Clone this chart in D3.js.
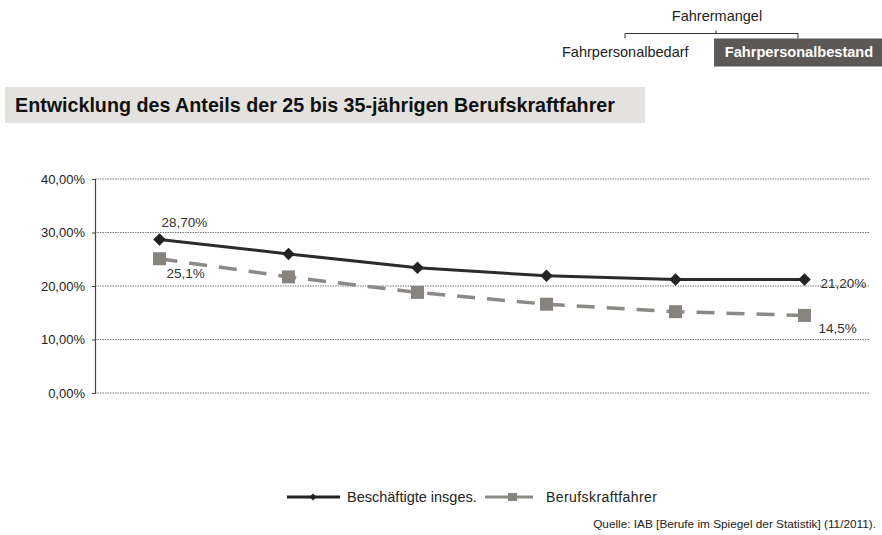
<!DOCTYPE html>
<html>
<head>
<meta charset="utf-8">
<script src="https://cdn.jsdelivr.net/npm/d3@7"></script>
<style>
  body { margin: 0; background: #fff; font-family: "Liberation Sans", Arial, sans-serif; }
  svg text { font-family: "Liberation Sans", Arial, sans-serif; }
</style>
</head>
<body>
<div id="chart"></div>
<script>
// data
var periods = ["P1", "P2", "P3", "P4", "P5", "P6"];
var beschaeftigte = [28.7, 26.0, 23.4, 21.9, 21.2, 21.2];
var fahrer = [25.1, 21.7, 18.8, 16.6, 15.2, 14.5];
var yTicks = [0, 10, 20, 30, 40];
var seriesNames = ["Beschäftigte insges.", "Berufskraftfahrer"];

var W = 882, H = 535;
var margin = {top: 179, right: 13, bottom: 142, left: 95},
    width = W - margin.left - margin.right,
    height = H - margin.top - margin.bottom;

var root = d3.select("#chart").append("svg")
    .attr("width", W).attr("height", H);

// header diagram top right
var head = root.append("g");
head.append("text").attr("x", 717).attr("y", 21).attr("text-anchor", "middle")
    .attr("font-size", 14.5).attr("fill", "#222").text("Fahrermangel");
head.append("path")
    .attr("d", "M625,38.5V33.5H798V38.5M716,33.5V30.5")
    .attr("fill", "none").attr("stroke", "#333").attr("stroke-width", 1);
head.append("text").attr("x", 562).attr("y", 57)
    .attr("font-size", 14.5).attr("fill", "#222").text("Fahrpersonalbedarf");
head.append("rect").attr("x", 714).attr("y", 38.5).attr("width", 168).attr("height", 28)
    .attr("fill", "#5b5855");
head.append("text").attr("x", 799).attr("y", 57).attr("text-anchor", "middle")
    .attr("font-size", 14.6).attr("font-weight", "bold").attr("fill", "#fff")
    .text("Fahrpersonalbestand");

// title bar
root.append("rect").attr("x", 5).attr("y", 87).attr("width", 640).attr("height", 36)
    .attr("fill", "#e4e2df");
root.append("text").attr("x", 15).attr("y", 112)
    .attr("font-size", 19.7).attr("font-weight", "bold").attr("fill", "#111")
    .text("Entwicklung des Anteils der 25 bis 35-jährigen Berufskraftfahrer");

var svg = root.append("g")
    .attr("transform", "translate(" + margin.left + "," + margin.top + ")");

var x = d3.scaleBand().domain(periods).range([0, width]);
var y = d3.scaleLinear().domain([0, 40]).range([height, 0]);

// gridlines
svg.append("g").selectAll("line")
    .data(yTicks)
    .enter().append("line")
    .attr("x1", 0).attr("x2", width)
    .attr("y1", function(d) { return y(d); })
    .attr("y2", function(d) { return y(d); })
    .attr("stroke", "#777").attr("stroke-width", 1)
    .attr("stroke-dasharray", "1.5,1");

// y axis
var yAxis = svg.append("g")
    .call(d3.axisLeft(y).tickValues(yTicks).tickSize(3)
        .tickFormat(function(d) { return d3.format(".2f")(d).replace(".", ",") + "%"; }));
yAxis.select(".domain").attr("stroke", "#444").attr("stroke-width", 1.2);
yAxis.selectAll(".tick line").attr("stroke", "#444");
yAxis.selectAll("text").attr("font-size", 13).attr("fill", "#222").attr("dx", "-4");

var cx = function(d, i) { return x(periods[i]) + x.bandwidth() / 2; };

var line = d3.line()
    .x(function(d, i) { return cx(d, i); })
    .y(function(d) { return y(d); });

// Berufskraftfahrer (dashed grey)
svg.append("path").datum(fahrer)
    .attr("d", line).attr("fill", "none")
    .attr("stroke", "#8c8a87").attr("stroke-width", 3.5)
    .attr("stroke-dasharray", "18,12");
svg.append("g").selectAll("rect")
    .data(fahrer).enter().append("rect")
    .attr("x", function(d, i) { return cx(d, i) - 6.5; })
    .attr("y", function(d) { return y(d) - 6.5; })
    .attr("width", 13).attr("height", 13)
    .attr("fill", "#878480");

// Beschaeftigte (solid dark)
svg.append("path").datum(beschaeftigte)
    .attr("d", line).attr("fill", "none")
    .attr("stroke", "#2b2b2b").attr("stroke-width", 3);
svg.append("g").selectAll("path.diamond")
    .data(beschaeftigte).enter().append("path")
    .attr("class", "diamond")
    .attr("d", d3.symbol().type(d3.symbolDiamond2).size(100))
    .attr("transform", function(d, i) {
        return "translate(" + cx(d, i) + "," + y(d) + ")";
    })
    .attr("fill", "#222");

// value labels
function pct(v, digits) { return d3.format("." + digits + "f")(v).replace(".", ",") + "%"; }
var last = periods.length - 1;
svg.append("text").attr("x", cx(0, 0) + 2).attr("y", y(beschaeftigte[0]) - 12)
    .attr("font-size", 13.5).attr("fill", "#333").text(pct(beschaeftigte[0], 2));
svg.append("text").attr("x", cx(0, 0) + 7).attr("y", y(fahrer[0]) + 19)
    .attr("font-size", 13.5).attr("fill", "#333").text(pct(fahrer[0], 1));
svg.append("text").attr("x", cx(0, last) + 16).attr("y", y(beschaeftigte[last]) + 8)
    .attr("font-size", 13.5).attr("fill", "#333").text(pct(beschaeftigte[last], 2));
svg.append("text").attr("x", cx(0, last) + 14).attr("y", y(fahrer[last]) + 18)
    .attr("font-size", 13.5).attr("fill", "#333").text(pct(fahrer[last], 1));

// legend
var lg = root.append("g").attr("transform", "translate(0,497)");
lg.append("line").attr("x1", 287).attr("x2", 340).attr("y1", 0).attr("y2", 0)
    .attr("stroke", "#222").attr("stroke-width", 3);
lg.append("path").attr("d", d3.symbol().type(d3.symbolDiamond2).size(30))
    .attr("transform", "translate(313,0)").attr("fill", "#222");
lg.append("text").attr("x", 347).attr("y", 5).attr("font-size", 14.5)
    .attr("fill", "#222").text(seriesNames[0]);
lg.append("line").attr("x1", 485).attr("x2", 533).attr("y1", 0).attr("y2", 0)
    .attr("stroke", "#8c8a87").attr("stroke-width", 3);
lg.append("rect").attr("x", 508).attr("y", -4).attr("width", 9).attr("height", 8)
    .attr("fill", "#878480");
lg.append("text").attr("x", 546).attr("y", 5).attr("font-size", 14).attr("textLength", 111)
    .attr("fill", "#222").text(seriesNames[1]);

// source
root.append("text").attr("x", 876).attr("y", 528).attr("text-anchor", "end")
    .attr("font-size", 11.8).attr("fill", "#222")
    .text("Quelle: IAB [Berufe im Spiegel der Statistik] (11/2011).");
</script>
</body>
</html>
